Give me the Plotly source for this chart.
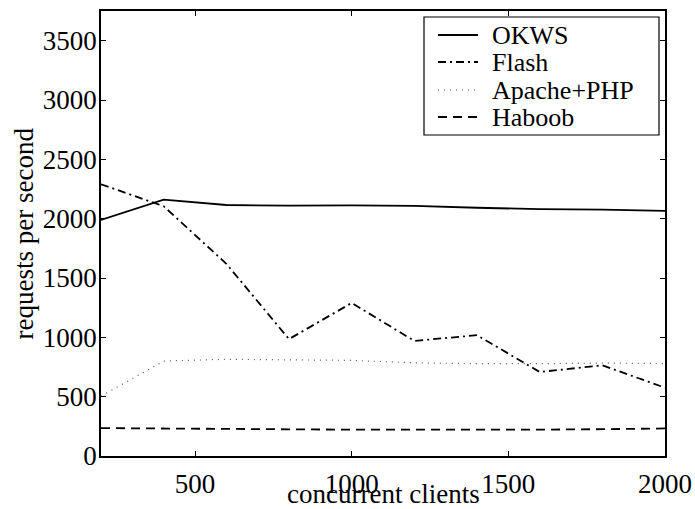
import plotly.graph_objects as go

clients = [200, 400, 600, 800, 1000, 1200, 1400, 1600, 1800, 2000]
okws = [1990, 2160, 2115, 2110, 2112, 2108, 2092, 2080, 2076, 2065]
flash = [2290, 2105, 1620, 985, 1290, 970, 1018, 708, 764, 576]
apache = [505, 800, 815, 812, 806, 785, 778, 778, 783, 779]
haboob = [235, 230, 227, 225, 222, 220, 220, 222, 226, 232]

series_names = ["OKWS", "Flash", "Apache+PHP", "Haboob"]
series_vals = [okws, flash, apache, haboob]
dashes = ["solid", "8px,4px,2px,4px", "1px,5px", "9px,6px"]
widths = [1.8, 1.8, 1.2, 1.8]
colors = ["black", "black", "#555555", "black"]

FONT = "Liberation Serif"

fig = go.Figure()
for name, vals, d, w, c in zip(series_names, series_vals, dashes, widths, colors):
    fig.add_trace(go.Scatter(x=clients, y=vals, mode="lines", name=name,
                             line=dict(color=c, width=w, dash=d), showlegend=False))

# manual legend (box + samples + labels) in paper coords
L, R, T, B = 101, 665, 11, 456
W, H = R - L, B - T
def px(x):
    return (x - L) / W
def py(y):
    return (B - y) / H

fig.add_shape(type="rect", xref="paper", yref="paper",
              x0=px(424), x1=px(659), y0=py(135), y1=py(17),
              line=dict(color="black", width=1.2), fillcolor="white", layer="above")
rows = [35, 62, 90, 117]
for name, d, w, c, ry in zip(series_names, dashes, widths, colors, rows):
    fig.add_shape(type="line", xref="paper", yref="paper",
                  x0=px(438), x1=px(478), y0=py(ry), y1=py(ry),
                  line=dict(color=c, width=w, dash=d), layer="above")
    fig.add_annotation(xref="paper", yref="paper", x=px(490), y=py(ry),
                       text=name, showarrow=False, xanchor="left", yanchor="middle",
                       font=dict(family=FONT, size=26, color="black"))

# axis titles
fig.add_annotation(xref="paper", yref="paper", x=px(383), y=py(494),
                   text="concurrent clients", showarrow=False,
                   xanchor="center", yanchor="middle",
                   font=dict(family=FONT, size=27, color="black"))
fig.add_annotation(xref="paper", yref="paper", x=px(23), y=py(233.5),
                   text="requests per second", showarrow=False, textangle=-90,
                   xanchor="center", yanchor="middle",
                   font=dict(family=FONT, size=27, color="black"))

axis_common = dict(showgrid=False, zeroline=False, showline=True, linecolor="black",
                   linewidth=1.5, mirror="ticks", ticks="inside", ticklen=5,
                   tickcolor="black", tickwidth=1,
                   tickfont=dict(family=FONT, size=27, color="black"))

fig.update_layout(
    width=695, height=509,
    margin=dict(l=L, r=695 - R, t=T, b=509 - B),
    paper_bgcolor="white", plot_bgcolor="white",
    font=dict(family=FONT, size=27, color="black"),
    showlegend=False,
    xaxis=dict(range=[200, 2000], tickvals=[500, 1000, 1500, 2000],
               ticklabelstandoff=3, automargin=False, **axis_common),
    yaxis=dict(range=[0, 3750], tickvals=[0, 500, 1000, 1500, 2000, 2500, 3000, 3500],
               ticklabelstandoff=-3, automargin=False, **axis_common),
)

fig.write_html("out.html")
